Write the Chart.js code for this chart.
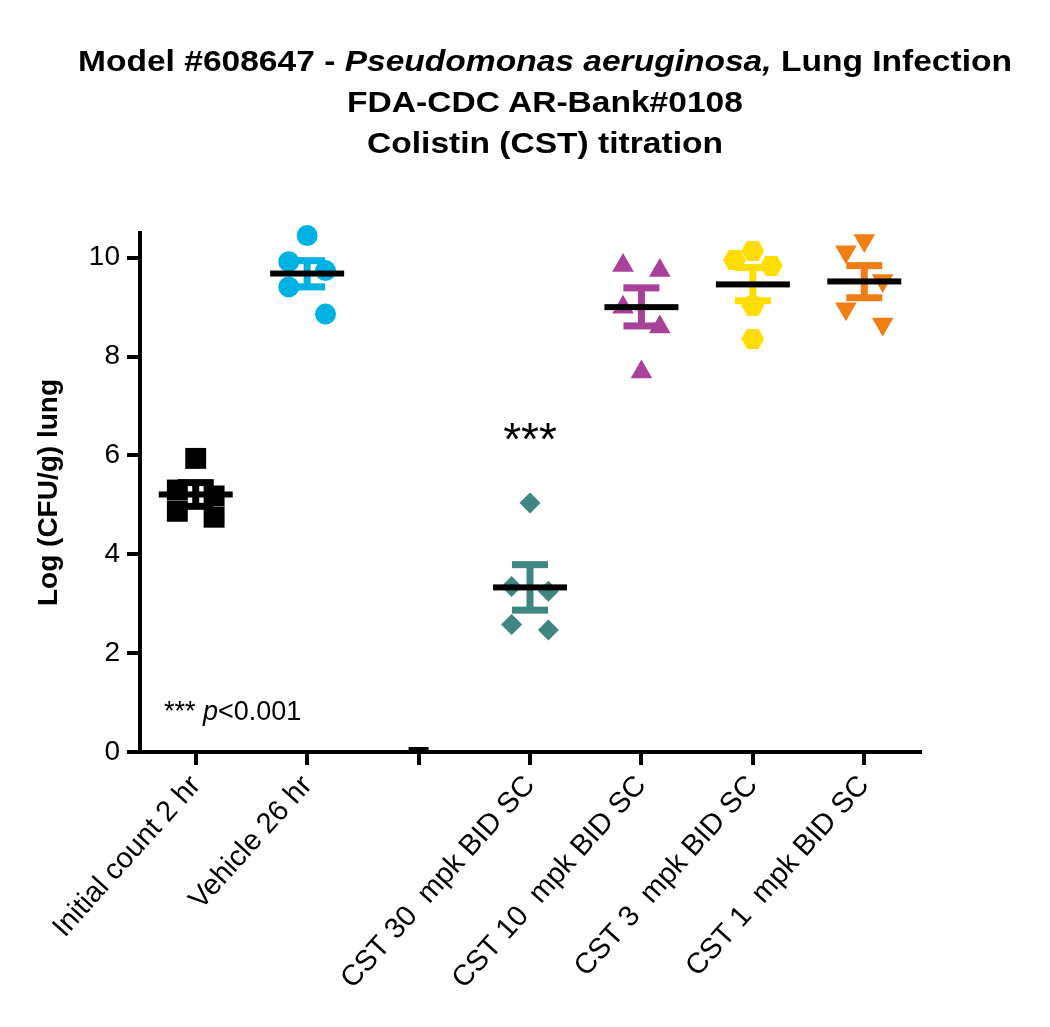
<!DOCTYPE html>
<html>
<head>
<meta charset="utf-8">
<script src="https://cdn.jsdelivr.net/npm/chart.js@4.4.1/dist/chart.umd.min.js"></script>
<style>
  body { margin: 0; background: #fff; }
  #wrap { position: relative; width: 1050px; height: 1027px; }
  #title {
    position: absolute; left: 20px; top: 40px; width: 1050px;
    text-align: center; font-family: "Liberation Sans", Arial, sans-serif;
    font-weight: bold; font-size: 30px; line-height: 41px; color: #000;
    transform-origin: 50% 50%;
  }
  #title div { white-space: nowrap; }
  canvas { position: absolute; left: 0; top: 0; }
</style>
</head>
<body>
<div id="wrap">
  <canvas id="chart" width="1050" height="1027"></canvas>
  <div id="title">
    <div><span id="t1">Model #608647 - <i>Pseudomonas aeruginosa,</i> Lung Infection</span></div>
    <div>FDA-CDC AR-Bank#0108</div>
    <div>Colistin (CST) titration</div>
  </div>
</div>
<script>
// groups along the x axis (third group has no label / no animals)
const groups = ['Initial count 2 hr', 'Vehicle 26 hr', '', 'CST 30  mpk BID SC',
  'CST 10  mpk BID SC', 'CST 3  mpk BID SC', 'CST 1  mpk BID SC'];

// Log(CFU/g) lung per animal
const initialCount = [5.94, 5.30, 5.18, 4.87, 4.75];
const vehicle = [10.45, 9.92, 9.74, 9.41, 8.86];
const emptyGroup = [];
const cst30 = [5.04, 3.35, 3.25, 2.58, 2.47];
const cst10 = [9.84, 9.74, 9.00, 8.60, 7.69];
const cst3 = [10.14, 9.95, 9.84, 9.03, 8.36];
const cst1 = [10.35, 10.12, 9.54, 8.97, 8.66];

// group mean and SEM bar ends
const means = [5.21, 9.68, 0, 3.33, 9.00, 9.46, 9.52];
const semUpper = [5.45, 9.94, null, 3.79, 9.39, 9.80, 9.84];
const semLower = [4.97, 9.41, null, 2.87, 8.62, 9.13, 9.19];
const significance = ['', '', '', '***', '', '', ''];

const yTicks = [0, 2, 4, 6, 8, 10];

const FONT = '"Liberation Sans", Arial, sans-serif';

// title: stretch lines to the width of the original
const t1 = document.getElementById('t1');
const stretch = 934 / t1.getBoundingClientRect().width;
document.getElementById('title').style.transform = 'scaleX(' + stretch + ')';

// hexagon marker
function hexagon(color, r) {
  const c = document.createElement('canvas');
  const h = Math.sqrt(3) * r;
  c.width = Math.ceil(2 * r); c.height = Math.ceil(h);
  const g = c.getContext('2d');
  g.fillStyle = color;
  g.beginPath();
  for (let k = 0; k < 6; k++) {
    const a = k * Math.PI / 3;
    const px = c.width / 2 + r * Math.cos(a), py = c.height / 2 + r * Math.sin(a);
    k ? g.lineTo(px, py) : g.moveTo(px, py);
  }
  g.closePath(); g.fill();
  return c;
}

// spread points with close values to left / right like a scatter dot plot
function sides(values, gap) {
  const order = values.map((v, i) => i).sort((a, b) => values[b] - values[a]);
  const side = values.map(() => 0);
  let run = [];
  const flush = () => {
    if (run.length > 1) {
      const start = run.length % 2;
      run.forEach((idx, k) => { side[idx] = k < start ? 0 : ((k - start) % 2 === 0 ? -1 : 1); });
    }
    run = [];
  };
  order.forEach((idx, k) => {
    if (k > 0 && values[order[k - 1]] - values[idx] >= gap) flush();
    run.push(idx);
  });
  flush();
  return side;
}

const series = [
  { values: initialCount, color: '#000000', style: 'rect', radius: 14.8 },
  { values: vehicle, color: '#00B2E4', style: 'circle', radius: 10.5 },
  { values: emptyGroup, color: '#000000', style: 'circle', radius: 0 },
  { values: cst30, color: '#3F8580', style: 'rectRot', radius: 10.5 },
  { values: cst10, color: '#A8419A', style: 'triangle', radius: 12.5 },
  { values: cst3, color: '#FFDD00', style: hexagon('#FFDD00', 11.5), radius: 11 },
  { values: cst1, color: '#F07E14', style: 'triangle', radius: 12.5, rotation: 180 },
];

const datasets = series.map((s, gi) => {
  const sd = sides(s.values, 0.6);
  return {
    label: groups[gi],
    data: s.values.map((v, i) => ({ x: gi + sd[i] * 0.165, y: v })),
    pointStyle: s.style,
    pointRadius: s.radius,
    pointRotation: s.rotation || 0,
    pointBackgroundColor: s.color,
    pointBorderWidth: 0,
    showLine: false,
    clip: false,
  };
});

const errorBars = {
  id: 'errorBars',
  beforeDatasetsDraw(chart) {
    const { ctx, scales: { x, y } } = chart;
    ctx.save();
    series.forEach((s, gi) => {
      if (semUpper[gi] == null) return;
      const cx = x.getPixelForValue(gi);
      const yt = y.getPixelForValue(semUpper[gi]);
      const yb = y.getPixelForValue(semLower[gi]);
      ctx.fillStyle = s.color;
      ctx.fillRect(cx - 3.5, yt, 7, yb - yt);
      ctx.fillRect(cx - 18, yt - 3.5, 36, 7);
      ctx.fillRect(cx - 18, yb - 3.5, 36, 7);
    });
    ctx.restore();
  },
  afterDatasetsDraw(chart) {
    const { ctx, scales: { x, y } } = chart;
    ctx.save();
    ctx.fillStyle = '#000';
    means.forEach((m, gi) => {
      const cx = x.getPixelForValue(gi);
      const my = y.getPixelForValue(m);
      if (series[gi].values.length) ctx.fillRect(cx - 37, my - 3, 74, 6);
      else ctx.fillRect(cx - 10, my - 5, 20, 5);
    });
    // significance stars
    ctx.font = '46px ' + FONT;
    ctx.textAlign = 'center';
    ctx.textBaseline = 'alphabetic';
    significance.forEach((t, gi) => {
      if (!t) return;
      ctx.fillText(t, x.getPixelForValue(gi), y.getPixelForValue(6.0));
    });
    // p-value note
    const a = chart.chartArea;
    let px = a.left + 24;
    const py = a.bottom - 32;
    ctx.textAlign = 'left';
    ctx.font = '27px ' + FONT;
    ctx.fillText('*** ', px, py);
    px += ctx.measureText('*** ').width;
    ctx.font = 'italic 27px ' + FONT;
    ctx.fillText('p', px, py);
    px += ctx.measureText('p').width;
    ctx.font = '27px ' + FONT;
    ctx.fillText('<0.001', px, py);
    ctx.restore();
  }
};

new Chart(document.getElementById('chart'), {
  type: 'scatter',
  data: { datasets },
  options: {
    responsive: false,
    animation: false,
    events: [],
    layout: { padding: { top: 233, right: 130, left: 0, bottom: 0 } },
    scales: {
      x: {
        type: 'linear',
        min: -0.5,
        max: 6.5,
        afterBuildTicks: (scale) => { scale.ticks = groups.map((g, i) => ({ value: i })); },
        afterFit: (scale) => { scale.height = 275; },
        border: { display: true, color: '#000', width: 4 },
        grid: { display: true, drawOnChartArea: false, color: '#000', lineWidth: 4, tickLength: 13 },
        ticks: {
          autoSkip: false,
          minRotation: 48,
          maxRotation: 48,
          padding: 4,
          color: '#000',
          font: { family: FONT, size: 29 },
          callback: (v, i) => groups[i],
        },
      },
      y: {
        min: 0,
        max: 10.5,
        afterBuildTicks: (scale) => { scale.ticks = yTicks.map(v => ({ value: v })); },
        afterFit: (scale) => { scale.width = 140; },
        border: { display: true, color: '#000', width: 4 },
        grid: { display: true, drawOnChartArea: false, color: '#000', lineWidth: 4, tickLength: 13 },
        ticks: {
          padding: 7,
          color: '#000',
          font: { family: FONT, size: 28 },
        },
        title: {
          display: true,
          text: 'Log (CFU/g) lung',
          color: '#000',
          font: { family: FONT, size: 28, weight: 'bold' },
          padding: { top: 32, bottom: 0 },
        },
      },
    },
    plugins: {
      legend: { display: false },
      tooltip: { enabled: false },
      title: { display: false },
    },
  },
  plugins: [errorBars],
});
</script>
</body>
</html>
